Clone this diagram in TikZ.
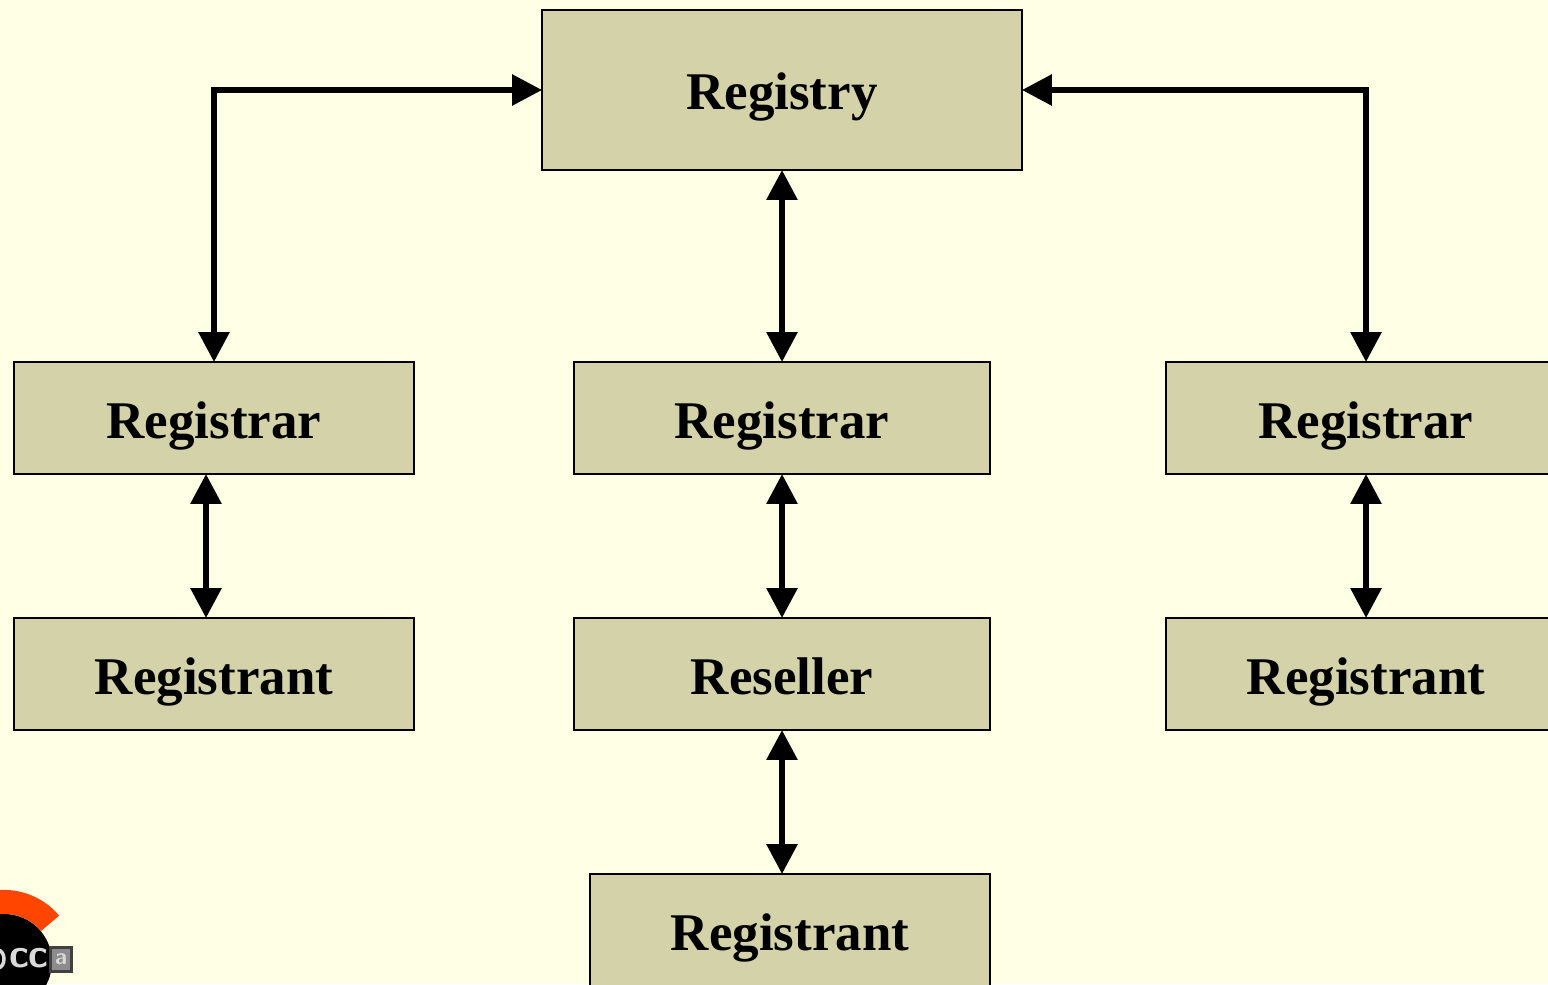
\documentclass[tikz,border=0pt]{standalone}
\usepackage{fontspec}
\setmainfont{Liberation Serif}
\usetikzlibrary{arrows.meta}
\definecolor{pagebg}{RGB}{255,255,230}
\definecolor{boxfill}{RGB}{212,210,168}
\definecolor{logored}{RGB}{255,69,0}
\tikzstyle{entity} = [rectangle, draw=black, line width=.04cm, fill=boxfill, inner sep=0, text height=1.1cm, text depth=.3cm, text centered, font=\fontsize{30.15}{36}\selectfont\bfseries]
\tikzstyle{wide} = [entity, minimum width=8cm, minimum height=2.24cm]
\tikzstyle{mid} = [entity, minimum width=8.32cm, minimum height=2.24cm]
\tikzstyle{arrow} = [line width=.12cm,shorten >=-.02cm,shorten <=-.02cm,{Triangle[length=.6cm,width=.6cm]}-{Triangle[length=.6cm,width=.6cm]}]
\begin{document}
\begin{tikzpicture}[x=.02cm,y=-.02cm]
\useasboundingbox[fill=pagebg] (0,0) rectangle (1548,984);

% top
\node[entity, minimum width=9.6cm, minimum height=3.2cm] (registry) at (782,90) {Registry};

% three columns
\node[wide] (registrarL) at (214,418) {Registrar};
\node[wide] (registrantL) at (214,674) {Registrant};
\node[mid] (registrarM) at (782,418) {Registrar};
\node[mid] (reseller) at (782,674) {Reseller};
\node[wide] (registrantM) at (790,930) {Registrant};
\node[wide] (registrarR) at (1366,418) {Registrar};
\node[wide] (registrantR) at (1366,674) {Registrant};

\draw[arrow] (registry.west) -| (registrarL.north);
\draw[arrow] (registry.east) -| (registrarR.north);
\draw[arrow] (registry.south) -- (registrarM.north);
\draw[arrow] ([xshift=-.16cm]registrarL.south) -- ([xshift=-.16cm]registrantL.north);
\draw[arrow] (registrarM.south) -- (reseller.north);
\draw[arrow] (registrarR.south) -- (registrantR.north);
\draw[arrow] (reseller.south) -- (reseller.south |- registrantM.north);

% logo
\fill[logored] (-8.5,891) arc[start angle=-100,end angle=-40,radius=72] -- (41,931) arc[start angle=-40,end angle=-100,radius=48] -- cycle;
\fill[black] (4,962) circle[radius=48];
\draw[white!85!black, line width=.07cm] (-2,950) .. controls (6,951) and (6,967) .. (-2,968);
\node[draw=black!75, line width=.06cm, fill=black!45, minimum width=.42cm, minimum height=.48cm, inner sep=0, text=white!85!black, font=\sffamily\bfseries\fontsize{13}{13}\selectfont] (logoA) at (61,959.5) {a};
\node[anchor=east, inner sep=0, text=white!85!black, font=\sffamily\bfseries\fontsize{23}{23}\selectfont] (logoText) at (49,958) {cc};
\end{tikzpicture}
\end{document}
